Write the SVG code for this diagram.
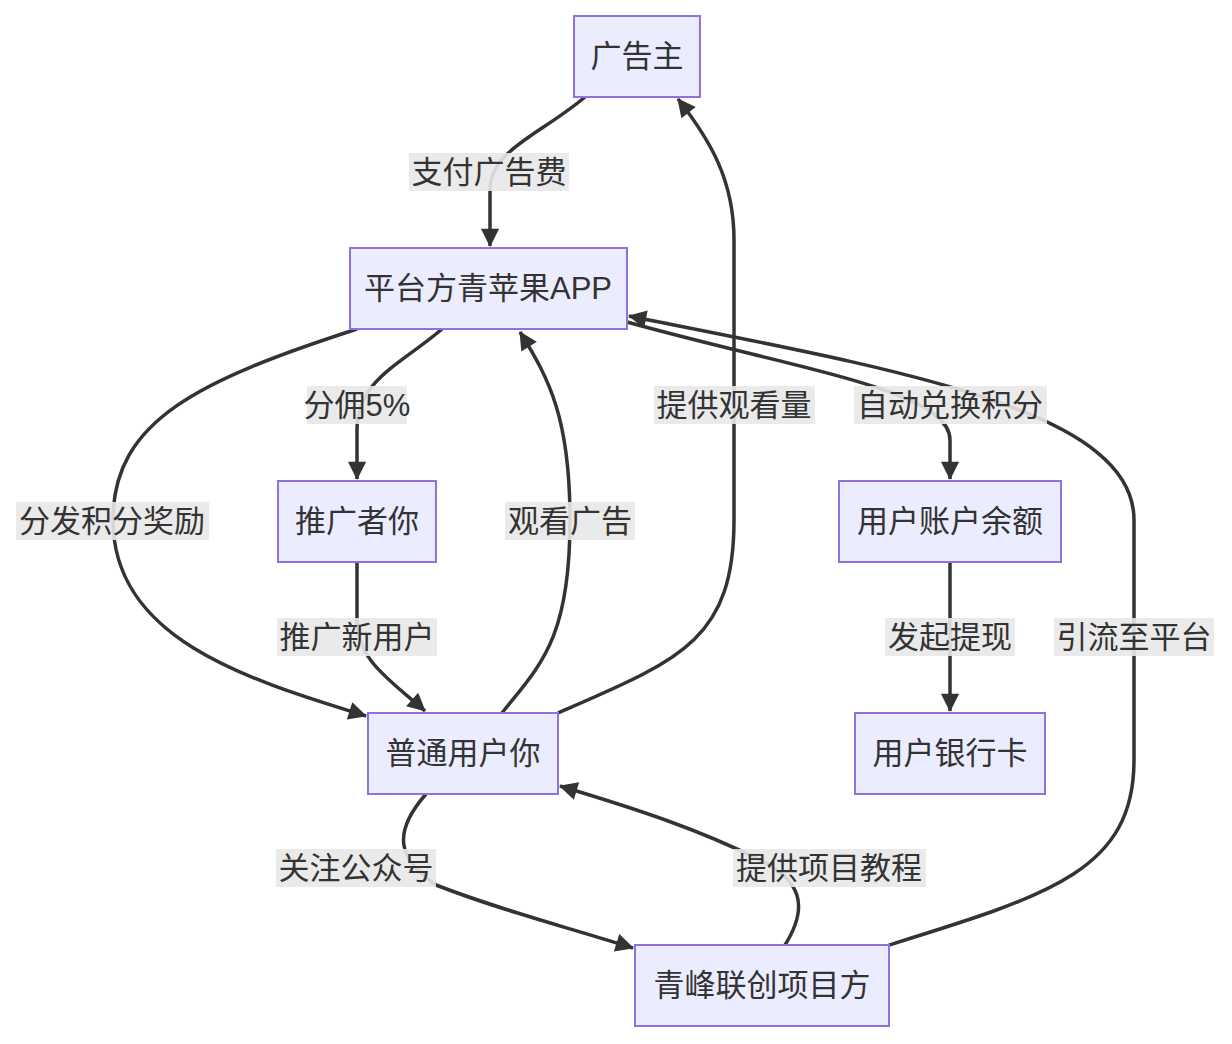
<svg xmlns="http://www.w3.org/2000/svg" width="1232" height="1044" viewBox="0 0 1232 1044">
<style>
.n rect{fill:#ECECFF;stroke:#9370DB;stroke-width:2}
text{font-family:"Liberation Sans","Noto Sans CJK SC",sans-serif;font-size:31px;fill:#333;text-anchor:middle;dominant-baseline:central}
.e path{fill:none;stroke:#333;stroke-width:3.5}
.l rect{fill:#e8e8e8;opacity:0.9}
</style>
<defs><marker id="a" viewBox="0 0 10 10" refX="9" refY="5" markerWidth="7" markerHeight="7" orient="auto-start-reverse" markerUnits="userSpaceOnUse" style="overflow:visible"><path d="M0,0L10,5L0,10z" fill="#333" transform="scale(2.6) translate(-6,-3.1)"/></marker></defs>
<rect width="1232" height="1044" fill="#fff"/>
<g class="e">
<path d="M585,97 C540,135 490,150 490,190 L490,246" marker-end="url(#a)"/>
<path d="M442,329 C400,365 357,380 357,430 L357,479" marker-end="url(#a)"/>
<path d="M357,329 C200,380 113,420 113,520 C113,640 250,680 366,716" marker-end="url(#a)"/>
<path d="M357,562 L357,620 C357,660 390,680 425,711" marker-end="url(#a)"/>
<path d="M502,713 C540,665 570,640 570,520 C570,420 550,380 520,332" marker-end="url(#a)"/>
<path d="M558,713 C680,660 734,640 734,520 L734,240 C734,180 710,140 678,99" marker-end="url(#a)"/>
<path d="M627,322 C800,370 950,390 950,440 L950,479" marker-end="url(#a)"/>
<path d="M950,562 L950,711" marker-end="url(#a)"/>
<path d="M426,794 C390,835 400,860 436,885 C500,910 560,925 633,948" marker-end="url(#a)"/>
<path d="M785,945 C810,905 800,880 760,860 C700,830 640,810 560,786" marker-end="url(#a)"/>
<path d="M889,945 C1050,895 1134,870 1134,760 L1134,520 C1134,410 900,370 629,316" marker-end="url(#a)"/>
</g>
<g class="l">
<rect x="409" y="153" width="160" height="38"/><text x="489" y="172">支付广告费</text>
<rect x="307" y="386" width="100" height="38"/><text x="357" y="405">分佣5%</text>
<rect x="16" y="502" width="193" height="38"/><text x="112" y="521">分发积分奖励</text>
<rect x="277" y="618" width="160" height="38"/><text x="357" y="637">推广新用户</text>
<rect x="505" y="502" width="130" height="38"/><text x="570" y="521">观看广告</text>
<rect x="654" y="386" width="161" height="38"/><text x="734" y="405">提供观看量</text>
<rect x="854" y="386" width="193" height="38"/><text x="950" y="405">自动兑换积分</text>
<rect x="885" y="618" width="130" height="38"/><text x="950" y="637">发起提现</text>
<rect x="276" y="849" width="160" height="38"/><text x="356" y="868">关注公众号</text>
<rect x="733" y="849" width="193" height="38"/><text x="829" y="868">提供项目教程</text>
<rect x="1054" y="618" width="160" height="38"/><text x="1134" y="637">引流至平台</text>
</g>
<g id="n1" class="n"><rect x="574" y="16" width="126" height="81"/><text x="637" y="56">广告主</text></g>
<g id="n2" class="n"><rect x="350" y="248" width="277" height="81"/><text x="488" y="288">平台方青苹果APP</text></g>
<g id="n3" class="n"><rect x="278" y="481" width="158" height="81"/><text x="357" y="521">推广者你</text></g>
<g id="n4" class="n"><rect x="839" y="481" width="222" height="81"/><text x="950" y="521">用户账户余额</text></g>
<g id="n5" class="n"><rect x="855" y="713" width="190" height="81"/><text x="950" y="753">用户银行卡</text></g>
<g id="n6" class="n"><rect x="368" y="713" width="190" height="81"/><text x="463" y="753">普通用户你</text></g>
<g id="n7" class="n"><rect x="635" y="945" width="254" height="81"/><text x="762" y="985">青峰联创项目方</text></g>
</svg>
